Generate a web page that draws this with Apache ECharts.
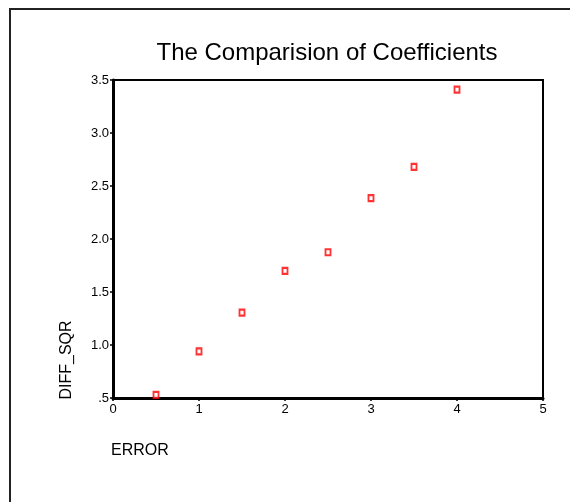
<!DOCTYPE html>
<html><head><meta charset="utf-8">
<script src="https://cdn.jsdelivr.net/npm/echarts@6/dist/echarts.min.js"></script>
<style>html,body{margin:0;padding:0;background:#fff}#c{width:570px;height:502px}</style>
</head><body><div id="c"></div>
<script>
const errorVals = [0.5, 1.0, 1.5, 2.0, 2.5, 3.0, 3.5, 4.0];
const diffSqr = [0.53, 0.94, 1.305, 1.70, 1.875, 2.385, 2.68, 3.41];
const yTickLabels = {0.5: '.5', 1: '1.0', 1.5: '1.5', 2: '2.0', 2.5: '2.5', 3: '3.0', 3.5: '3.5'};
const titleText = 'The Comparision of Coefficients';
const xName = 'ERROR', yName = 'DIFF_SQR';

const chart = echarts.init(document.getElementById('c'), null, {renderer: 'canvas'});
const font = 'Liberation Sans, Arial, sans-serif';
chart.setOption({
  animation: false,
  backgroundColor: '#fff',
  title: {text: titleText, left: 322, top: 36, textAlign: 'center',
    textStyle: {fontFamily: font, fontSize: 24, fontWeight: 'normal', color: '#000'}},
  grid: {left: 113, top: 80, right: 27, bottom: 104, show: true, borderColor: '#000', borderWidth: 2},
  xAxis: {type: 'value', min: 0, max: 5, interval: 1,
    axisLine: {show: true, lineStyle: {color: '#000', width: 3}},
    axisTick: {show: true, length: 3, lineStyle: {color: '#000', width: 1.5}},
    axisLabel: {fontFamily: font, fontSize: 13, color: '#000', margin: 5},
    splitLine: {show: false}},
  yAxis: {type: 'value', min: 0.5, max: 3.5, interval: 0.5,
    axisLine: {show: true, lineStyle: {color: '#000', width: 3}},
    axisTick: {show: true, length: 3, lineStyle: {color: '#000', width: 1.5}},
    axisLabel: {fontFamily: font, fontSize: 13, color: '#000', margin: 4,
      formatter: v => yTickLabels[v] !== undefined ? yTickLabels[v] : String(v)},
    splitLine: {show: false}},
  graphic: [
    {type: 'rect', shape: {x: 10, y: 9, width: 700, height: 700}, style: {fill: 'none', stroke: '#222', lineWidth: 2}, silent: true},
    {type: 'text', x: 67, y: 360, rotation: Math.PI / 2, style: {text: yName, fontFamily: font, fontSize: 16, fill: '#000', align: 'center', verticalAlign: 'middle'}},
    {type: 'text', x: 111, y: 451, style: {text: xName, fontFamily: font, fontSize: 16, fill: '#000', align: 'left', verticalAlign: 'middle'}}
  ],
  series: [{type: 'scatter', data: errorVals.map((x, i) => [x, diffSqr[i]]),
    symbol: 'rect', symbolSize: [5, 6],
    itemStyle: {color: '#fff', borderColor: '#f00', borderWidth: 2}}]
});
</script></body></html>
